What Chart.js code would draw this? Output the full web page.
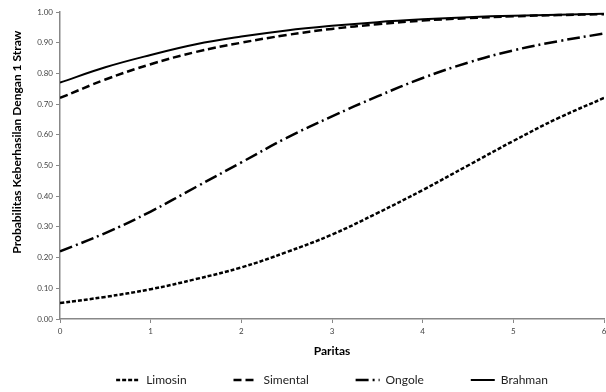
<!DOCTYPE html>
<html>
<head>
<meta charset="utf-8">
<script src="https://cdn.jsdelivr.net/npm/chart.js@4/dist/chart.umd.min.js"></script>
<style>
  html, body { margin: 0; padding: 0; background: #fff; }
  #wrap { width: 606px; height: 392px; }
</style>
</head>
<body>
<div id="wrap"><canvas id="grafik"></canvas></div>
<script>
// paritas 0..6, read every half step
const paritas = [0, 0.5, 1, 1.5, 2, 2.5, 3, 3.5, 4, 4.5, 5, 5.5, 6];
const limosin  = [0.052, 0.072, 0.097, 0.13, 0.168, 0.218, 0.275, 0.345, 0.42, 0.50, 0.58, 0.655, 0.72];
const ongole   = [0.22, 0.28, 0.35, 0.43, 0.51, 0.59, 0.66, 0.725, 0.785, 0.835, 0.875, 0.905, 0.93];
const simental = [0.72, 0.78, 0.83, 0.87, 0.90, 0.925, 0.945, 0.96, 0.972, 0.98, 0.986, 0.99, 0.993];
const brahman  = [0.77, 0.82, 0.86, 0.895, 0.92, 0.94, 0.955, 0.967, 0.976, 0.983, 0.988, 0.991, 0.994];
const tickX = [0, 1, 2, 3, 4, 5, 6];

const fonte = 'Lato, "Open Sans", sans-serif';

function titik(vals) {
    return paritas.map((p, i) => ({ x: p, y: vals[i] }));
}

function garis(nama, vals, dash, lebar) {
    return {
        label: nama,
        data: titik(vals),
        borderColor: '#000',
        backgroundColor: '#000',
        borderWidth: lebar,
        borderDash: dash,
        pointRadius: 0,
        tension: 0.4,
        fill: false
    };
}

// legenda: garis putus-putus sesuai dataset, jarak antar item dilebarkan pakai spasi
function labelLegenda(chart) {
    const ds = chart.data.datasets;
    return ds.map((d, i) => ({
        text: i < ds.length - 1 ? d.label + ' '.repeat(12) : d.label,
        fillStyle: '#000',
        strokeStyle: '#000',
        lineWidth: d.borderWidth,
        lineDash: d.borderDash,
        pointStyle: 'line',
        fontColor: '#222',
        datasetIndex: i
    }));
}

new Chart(document.getElementById('grafik'), {
    type: 'line',
    data: {
        datasets: [
            garis('Limosin', limosin, [4, 2], 2.5),
            garis('Simental', simental, [8, 4], 2.5),
            garis('Ongole', ongole, [13, 4, 2, 4], 2.5),
            garis('Brahman', brahman, [], 2)
        ]
    },
    options: {
        responsive: true,
        maintainAspectRatio: false,
        animation: false,
        layout: { padding: { top: 12, right: 2, left: 8, bottom: -4 } },
        plugins: {
            legend: {
                position: 'bottom',
                fullSize: false,
                labels: {
                    usePointStyle: true,
                    pointStyleWidth: 24,
                    boxHeight: 6,
                    padding: 10,
                    color: '#222',
                    font: { size: 12, family: fonte },
                    generateLabels: labelLegenda
                }
            },
            tooltip: { enabled: false }
        },
        scales: {
            x: {
                type: 'linear',
                min: 0,
                max: 6,
                afterBuildTicks: s => { s.ticks = tickX.map(v => ({ value: v })); },
                afterFit: s => { s.height = 45; s.paddingRight = 0; },
                grid: { drawOnChartArea: false, tickLength: 4, color: '#888' },
                border: { color: '#888', width: 1.5 },
                ticks: { color: '#444', font: { size: 8, family: fonte }, padding: 4, maxRotation: 0 },
                title: { display: true, text: 'Paritas', color: '#000', font: { size: 12, weight: 'bold', family: fonte }, padding: { top: 0, bottom: 6 } }
            },
            y: {
                min: 0,
                max: 1,
                afterFit: s => { s.width = 52; },
                grid: { drawOnChartArea: false, tickLength: 4, color: '#888' },
                border: { color: '#888', width: 1.5 },
                ticks: { stepSize: 0.1, color: '#444', font: { size: 8, family: fonte }, padding: 3,
                         callback: v => v.toFixed(2) },
                // spasi di depan menggeser judul sedikit ke atas seperti aslinya
                title: { display: true, text: ' '.repeat(16) + 'Probabilitas Keberhasilan Dengan 1 Straw', color: '#000', font: { size: 12, weight: 'bold', family: fonte }, padding: { top: 2 } }
            }
        }
    }
});
</script>
</body>
</html>
